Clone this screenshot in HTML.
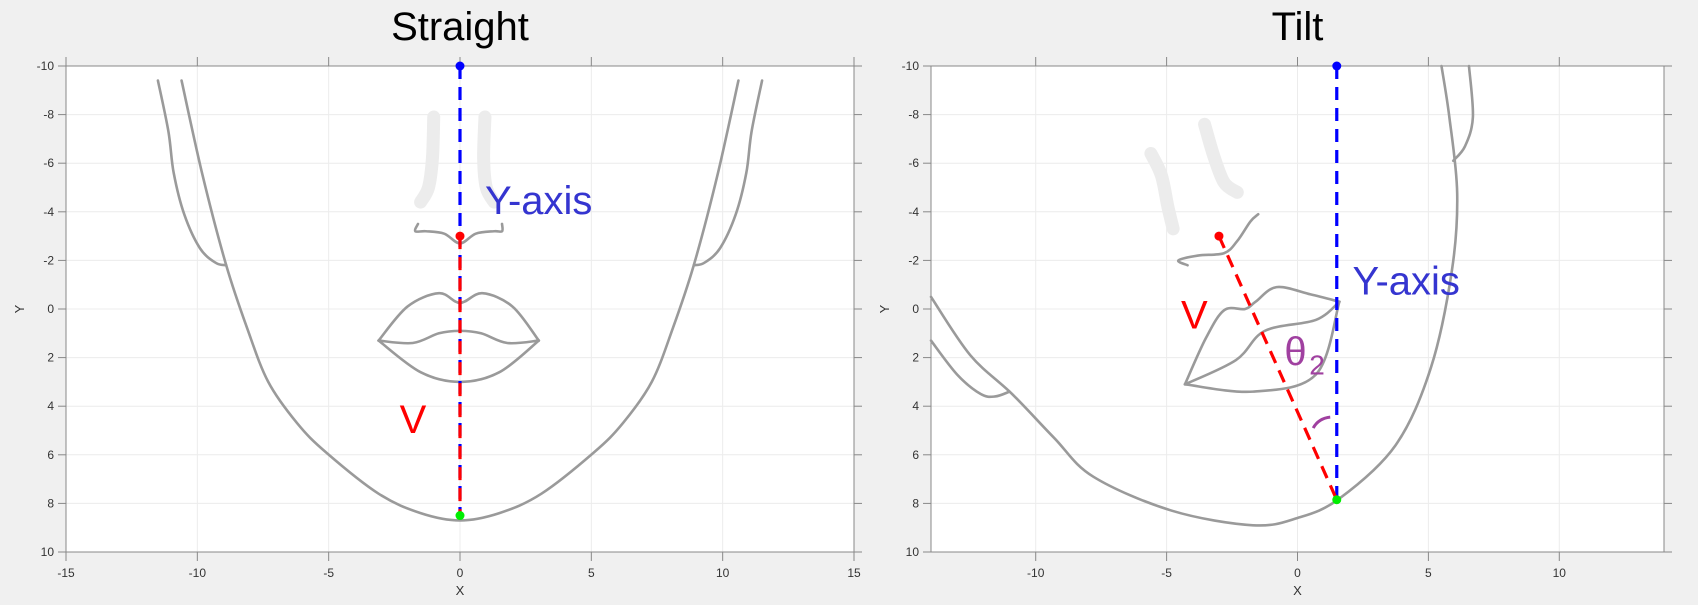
<!DOCTYPE html>
<html><head><meta charset="utf-8">
<style>
html,body{margin:0;padding:0;background:#f0f0f0;}
svg{display:block;font-family:"Liberation Sans",sans-serif;}
</style></head>
<body>
<svg id="chart" width="1698" height="605" viewBox="0 0 1698 605"></svg>
<script>
const xTicksLeft=[-15,-10,-5,0,5,10,15];
const xTicksRight=[-10,-5,0,5,10];
const yTicks=[-10,-8,-6,-4,-2,0,2,4,6,8,10];
// Straight panel points
const jawL=[[-10.6,-9.4],[-9.8,-5.5],[-8.9,-1.8],[-8.1,0.8],[-7.3,3.0],[-6.2,4.7],[-5.1,5.9],[-3.1,7.6],[-1.5,8.4],[0,8.7],[1.5,8.4],[3.1,7.6],[5.1,5.9],[6.2,4.7],[7.3,3.0],[8.1,0.8],[8.9,-1.8],[9.8,-5.5],[10.6,-9.4]];
const cheekL1=[[-11.5,-9.4],[-11.1,-7.3],[-10.9,-5.6],[-10.5,-3.9],[-9.9,-2.5],[-9.3,-1.9],[-8.9,-1.8]];
const cheekR1=[[11.5,-9.4],[11.1,-7.3],[10.9,-5.6],[10.5,-3.9],[9.9,-2.5],[9.3,-1.9],[8.9,-1.8]];
const noseL=[[-1.6,-3.5],[-1.7,-3.2],[-1.3,-3.2],[-0.6,-3.1],[0,-2.7],[0.6,-3.1],[1.3,-3.2],[1.6,-3.2],[1.6,-3.5]];
const upperLipL=[[-3.1,1.3],[-2,-0.1],[-0.8,-0.65],[0,-0.25],[0.85,-0.65],[2,-0.1],[3.0,1.3]];
const midLipL=[[-3.1,1.3],[-1.8,1.4],[-0.8,1.0],[0,0.9],[0.8,1.0],[1.8,1.4],[3.0,1.3]];
const lowerLipL=[[-3.1,1.3],[-1.5,2.6],[0,3.0],[1.5,2.6],[3.0,1.3]];
const nostrilsL=[[[-1.0,-7.9],[-1.05,-6.2],[-1.2,-5.0],[-1.5,-4.4]],[[0.95,-7.9],[0.9,-6.2],[1.0,-5.0],[1.3,-4.4]]];
const blueTopL=[0,-10], redTopL=[0,-3], greenL=[0,8.5];
// Tilt panel points
const faceR=[[-14,-0.5],[-12.5,1.9],[-10.9,3.5],[-9.3,5.3],[-7.8,6.9],[-4.8,8.3],[-1.7,8.9],[0,8.6],[1.6,7.8],[3.75,5.6],[5.1,2.4],[5.9,-1.6],[6.1,-4.75],[5.8,-7.9],[5.5,-10]];
const jawR=[[-14,1.3],[-13,2.7],[-12.1,3.5],[-11.55,3.6],[-11.0,3.4]];
const earR=[[6.55,-10],[6.7,-7.9],[6.4,-6.7],[5.95,-6.1]];
const noseR=[[-1.5,-3.9],[-1.8,-3.6],[-2.3,-2.8],[-2.8,-2.3],[-3.8,-2.2],[-4.55,-2.0],[-4.2,-1.8]];
const upperLipR=[[-4.3,3.1],[-3.5,1.2],[-2.8,0.05],[-2.0,0.0],[-1.6,-0.3],[-0.8,-0.9],[0.5,-0.6],[1.6,-0.3]];
const midLipR=[[-4.3,3.1],[-2.35,2.1],[-1.25,0.9],[0.7,0.45],[1.6,-0.3]];
const lowerLipR=[[-4.3,3.1],[-1.7,3.4],[0.7,2.7],[1.6,-0.3]];
const nostrilsR=[[[-5.6,-6.4],[-5.2,-5.5],[-4.95,-4.2],[-4.75,-3.3]],[[-3.55,-7.6],[-3.2,-6.3],[-2.8,-5.2],[-2.3,-4.8]]];
const blueTopR=[1.5,-10], blueBotR=[1.5,7.8], redTopR=[-3,-3], greenR=[1.5,7.85];

const NS="http://www.w3.org/2000/svg";
const svg=document.getElementById('chart');
function el(tag,attrs,parent,text){const e=document.createElementNS(NS,tag);for(const k in attrs)e.setAttribute(k,attrs[k]);if(text!==undefined)e.textContent=text;(parent||svg).appendChild(e);return e;}
function axis(x0,x1,y0,y1,xmin,xmax){return {sx:v=>x0+(v-xmin)/(xmax-xmin)*(x1-x0),sy:v=>y0+(v+10)/20*(y1-y0),x0,x1,y0,y1};}
function smooth(pts,A,close){const p=pts.map(q=>[A.sx(q[0]),A.sy(q[1])]);let d='M'+p[0][0]+','+p[0][1];for(let i=0;i<p.length-1;i++){const a=p[i-1]||p[i],b=p[i],c=p[i+1],e=p[i+2]||c;d+=' C'+(b[0]+(c[0]-a[0])/6)+','+(b[1]+(c[1]-a[1])/6)+' '+(c[0]-(e[0]-b[0])/6)+','+(c[1]-(e[1]-b[1])/6)+' '+c[0]+','+c[1];}return d+(close?' Z':'');}

function panel(A,xt,title,name){
  const g=el('g',{},svg);
  el('rect',{x:A.x0,y:A.y0,width:A.x1-A.x0,height:A.y1-A.y0,fill:'#fff'},g);
  xt.forEach(v=>{el('line',{x1:A.sx(v),x2:A.sx(v),y1:A.y0,y2:A.y1,stroke:'#ececec'},g);
    el('line',{x1:A.sx(v),x2:A.sx(v),y1:A.y0-9,y2:A.y0,stroke:'#888'},g);
    el('line',{x1:A.sx(v),x2:A.sx(v),y1:A.y1,y2:A.y1+9,stroke:'#888'},g);
    const t=el('text',{x:A.sx(v),y:A.y1+25,'text-anchor':'middle','font-size':12,fill:'#333'},g,String(v));});
  yTicks.forEach(v=>{el('line',{x1:A.x0,x2:A.x1,y1:A.sy(v),y2:A.sy(v),stroke:'#ececec'},g);
    el('line',{x1:A.x0-8,x2:A.x0,y1:A.sy(v),y2:A.sy(v),stroke:'#888'},g);
    el('line',{x1:A.x1,x2:A.x1+8,y1:A.sy(v),y2:A.sy(v),stroke:'#888'},g);
    const t=el('text',{x:A.x0-12,y:A.sy(v)+4,'text-anchor':'end','font-size':12,fill:'#333'},g,String(v));});
  el('rect',{x:A.x0,y:A.y0,width:A.x1-A.x0,height:A.y1-A.y0,fill:'none',stroke:'#888'},g);
  const xl=el('text',{x:(A.x0+A.x1)/2,y:A.y1+43,'text-anchor':'middle','font-size':13,fill:'#333'},g,'X');
  const yl=el('text',{x:0,y:0,transform:'translate('+(A.x0-42)+','+A.sy(0)+') rotate(-90)','text-anchor':'middle','font-size':13,fill:'#333'},g,'Y');
  const tt=el('text',{x:(A.x0+A.x1)/2,y:40,'text-anchor':'middle','font-size':40,fill:'#000','font-family':'"Liberation Sans Narrow","Liberation Sans",sans-serif'},g,title);
  return g;
}
function line(g,pts,A,name,close){const p=el('path',{d:smooth(pts,A,close),fill:'none',stroke:'#9a9a9a','stroke-width':2.6,'stroke-linecap':'round'},g);return p;}
function dot(g,pt,A,c,name,r){const d=el('circle',{cx:A.sx(pt[0]),cy:A.sy(pt[1]),r:r||4.5,fill:c},g);}
function dash(g,a,b,A,c,name){const l=el('line',{x1:A.sx(a[0]),y1:A.sy(a[1]),x2:A.sx(b[0]),y2:A.sy(b[1]),stroke:c,'stroke-width':3.2,'stroke-dasharray':'13,8'},g);}
function nostril(g,pts,A){const p=el('path',{d:smooth(pts,A,false),fill:'none',stroke:'#ececec','stroke-width':13,'stroke-linecap':'round'},g);}

// Left panel
const L=axis(66,854,66,552,-15,15);
const gL=panel(L,xTicksLeft,'Straight','straight-panel');
nostrilsL.forEach(n=>nostril(gL,n,L));
line(gL,jawL,L,'jaw-outline');line(gL,cheekL1,L,'cheek-left');line(gL,cheekR1,L,'cheek-right');
line(gL,noseL,L,'nose-outline');line(gL,upperLipL,L,'upper-lip');line(gL,midLipL,L,'lip-line');line(gL,lowerLipL,L,'lower-lip');
dash(gL,blueTopL,greenL,L,'#0000ff','y-axis-line');
dash(gL,redTopL,greenL,L,'#ff0000','v-line');
dot(gL,blueTopL,L,'#0000ff','top-point');dot(gL,redTopL,L,'#ff0000','nose-point');dot(gL,greenL,L,'#00ee00','chin-point');
let t=el('text',{x:L.sx(0.95),y:L.sy(-3.9),'font-size':40,fill:'#3535d0'},gL,'Y-axis');
t=el('text',{x:L.sx(-2.3),y:L.sy(5.1),'font-size':40,fill:'#ff0000'},gL,'V');

// Right panel
const R=axis(931,1664,66,552,-14,14);
const gR=panel(R,xTicksRight,'Tilt','tilt-panel');
nostrilsR.forEach(n=>nostril(gR,n,R));
line(gR,faceR,R,'face-outline');line(gR,jawR,R,'jaw-line');line(gR,earR,R,'ear-line');
line(gR,noseR,R,'nose-outline');line(gR,upperLipR,R,'upper-lip');line(gR,midLipR,R,'lip-line');line(gR,lowerLipR,R,'lower-lip');
dash(gR,blueTopR,blueBotR,R,'#0000ff','y-axis-line');
dash(gR,redTopR,greenR,R,'#ff0000','v-line');
dot(gR,blueTopR,R,'#0000ff','top-point');dot(gR,redTopR,R,'#ff0000','nose-point');dot(gR,greenR,R,'#00ee00','chin-point');
const arc=el('path',{d:'M'+R.sx(0.6)+','+R.sy(4.9)+' Q'+R.sx(0.8)+','+R.sy(4.5)+' '+R.sx(1.25)+','+R.sy(4.45),fill:'none',stroke:'#a040a0','stroke-width':3},gR);
t=el('text',{x:R.sx(2.1),y:R.sy(-0.6),'font-size':40,fill:'#3535d0'},gR,'Y-axis');
t=el('text',{x:R.sx(-4.45),y:R.sy(0.8),'font-size':40,fill:'#ff0000'},gR,'V');
t=el('text',{x:R.sx(-0.5),y:R.sy(2.3),'font-size':40,fill:'#a040a0'},gR,'θ');
t=el('text',{x:R.sx(0.45),y:R.sy(2.7),'font-size':28,fill:'#a040a0'},gR,'2');
</script>
</body></html>
